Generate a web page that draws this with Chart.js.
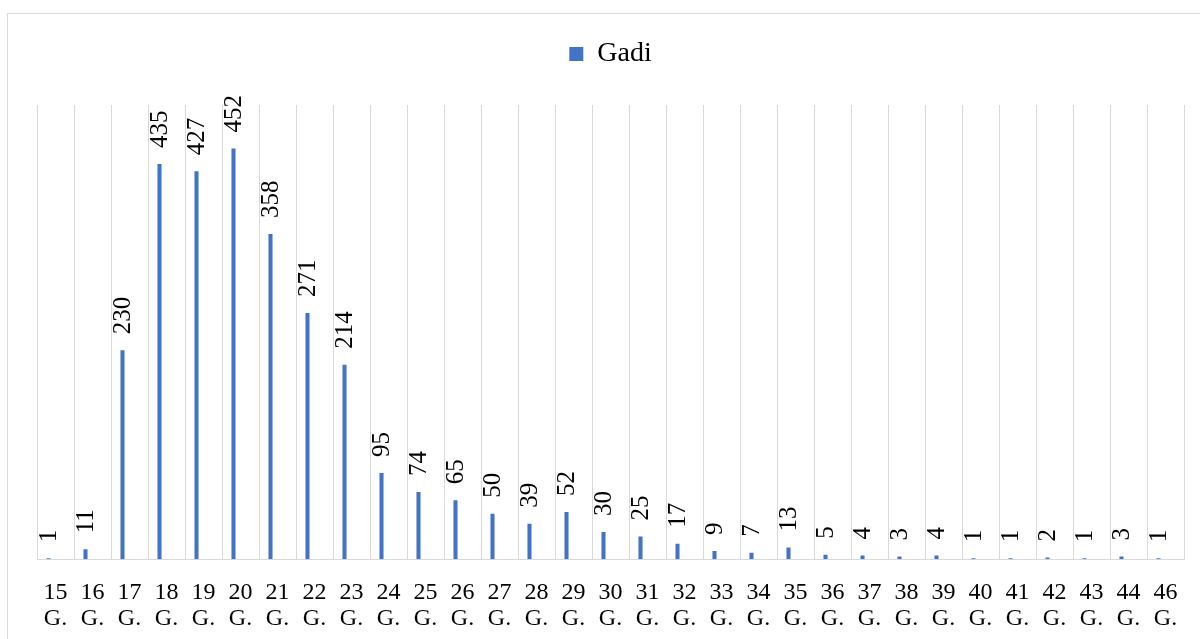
<!DOCTYPE html>
<html>
<head>
<meta charset="utf-8">
<script src="https://cdn.jsdelivr.net/npm/chart.js@4.4.1/dist/chart.umd.min.js"></script>
<style>
  html,body{margin:0;padding:0;background:#fff;overflow:hidden;}
  #frame{position:absolute;left:7px;top:13px;width:1300px;height:700px;border:1px solid #d9d9d9;box-sizing:border-box;}
  #wrap{position:absolute;left:0;top:0;width:1200px;height:639px;}
</style>
</head>
<body>
<div id="frame"></div>
<div id="wrap"><canvas id="chart"></canvas></div>
<script>
// categories: gadi number (no 45)
const groups=['15','16','17','18','19','20','21','22','23','24','25','26','27','28','29','30','31','32','33','34','35','36','37','38','39','40','41','42','43','44','46'];
const gadiCounts=[1,11,230,435,427,452,358,271,214,95,74,65,50,39,52,30,25,17,9,7,13,5,4,3,4,1,1,2,1,3,1];
const seriesName='Gadi';
// empty second slot, keeps the bar on the left half of its category like the original
const emptySlot=groups.map(()=>null);

const labels=groups.map((g)=>[g,'G.']);
const FONT='"Liberation Serif", "Times New Roman", serif';

// value labels drawn vertically above each bar
const barValues={
  id:'barValues',
  afterDatasetsDraw(chart){
    const {ctx}=chart;
    const meta=chart.getDatasetMeta(0);
    ctx.save();
    ctx.font='25px '+FONT;
    ctx.fillStyle='#000';
    ctx.textAlign='left';
    ctx.textBaseline='middle';
    meta.data.forEach((bar,i)=>{
      ctx.save();
      ctx.translate(bar.x,bar.y-16);
      ctx.rotate(-Math.PI/2);
      ctx.fillText(String(gadiCounts[i]),0,1);
      ctx.restore();
    });
    ctx.restore();
  }
};

// extra room under the legend
const legendGap={
  id:'legendGap',
  beforeInit(chart){
    const fit=chart.legend.fit;
    chart.legend.fit=function(){
      fit.call(this);
      this.height+=27;
    };
  }
};

new Chart(document.getElementById('chart'),{
  type:'bar',
  data:{
    labels,
    datasets:[{
      label:seriesName,
      data:gadiCounts,
      backgroundColor:'#4472c4',
      categoryPercentage:0.757,
      barPercentage:0.29
    },{
      label:'',
      data:emptySlot,
      backgroundColor:'#4472c4',
      categoryPercentage:0.757,
      barPercentage:0.29
    }]
  },
  options:{
    responsive:true,
    maintainAspectRatio:false,
    animation:false,
    layout:{ padding:{ left:37, right:16, top:30, bottom:-13 } },
    plugins:{
      legend:{
        display:true,
        position:'top',
        labels:{
          font:{ family:FONT, size:28 },
          color:'#000',
          boxWidth:14,
          boxHeight:14,
          padding:10,
          filter:(item)=> item.datasetIndex===0
        }
      },
      tooltip:{ enabled:false }
    },
    scales:{
      x:{
        grid:{ color:'#d9d9d9', lineWidth:1, drawTicks:false, offset:true },
        border:{ color:'#d9d9d9' },
        ticks:{
          font:{ family:FONT, size:24, lineHeight:1.1 },
          color:'#000',
          padding:20,
          maxRotation:0,
          autoSkip:false
        }
      },
      y:{
        display:false,
        min:0,
        max:500
      }
    }
  },
  plugins:[barValues,legendGap]
});
</script>
</body>
</html>
